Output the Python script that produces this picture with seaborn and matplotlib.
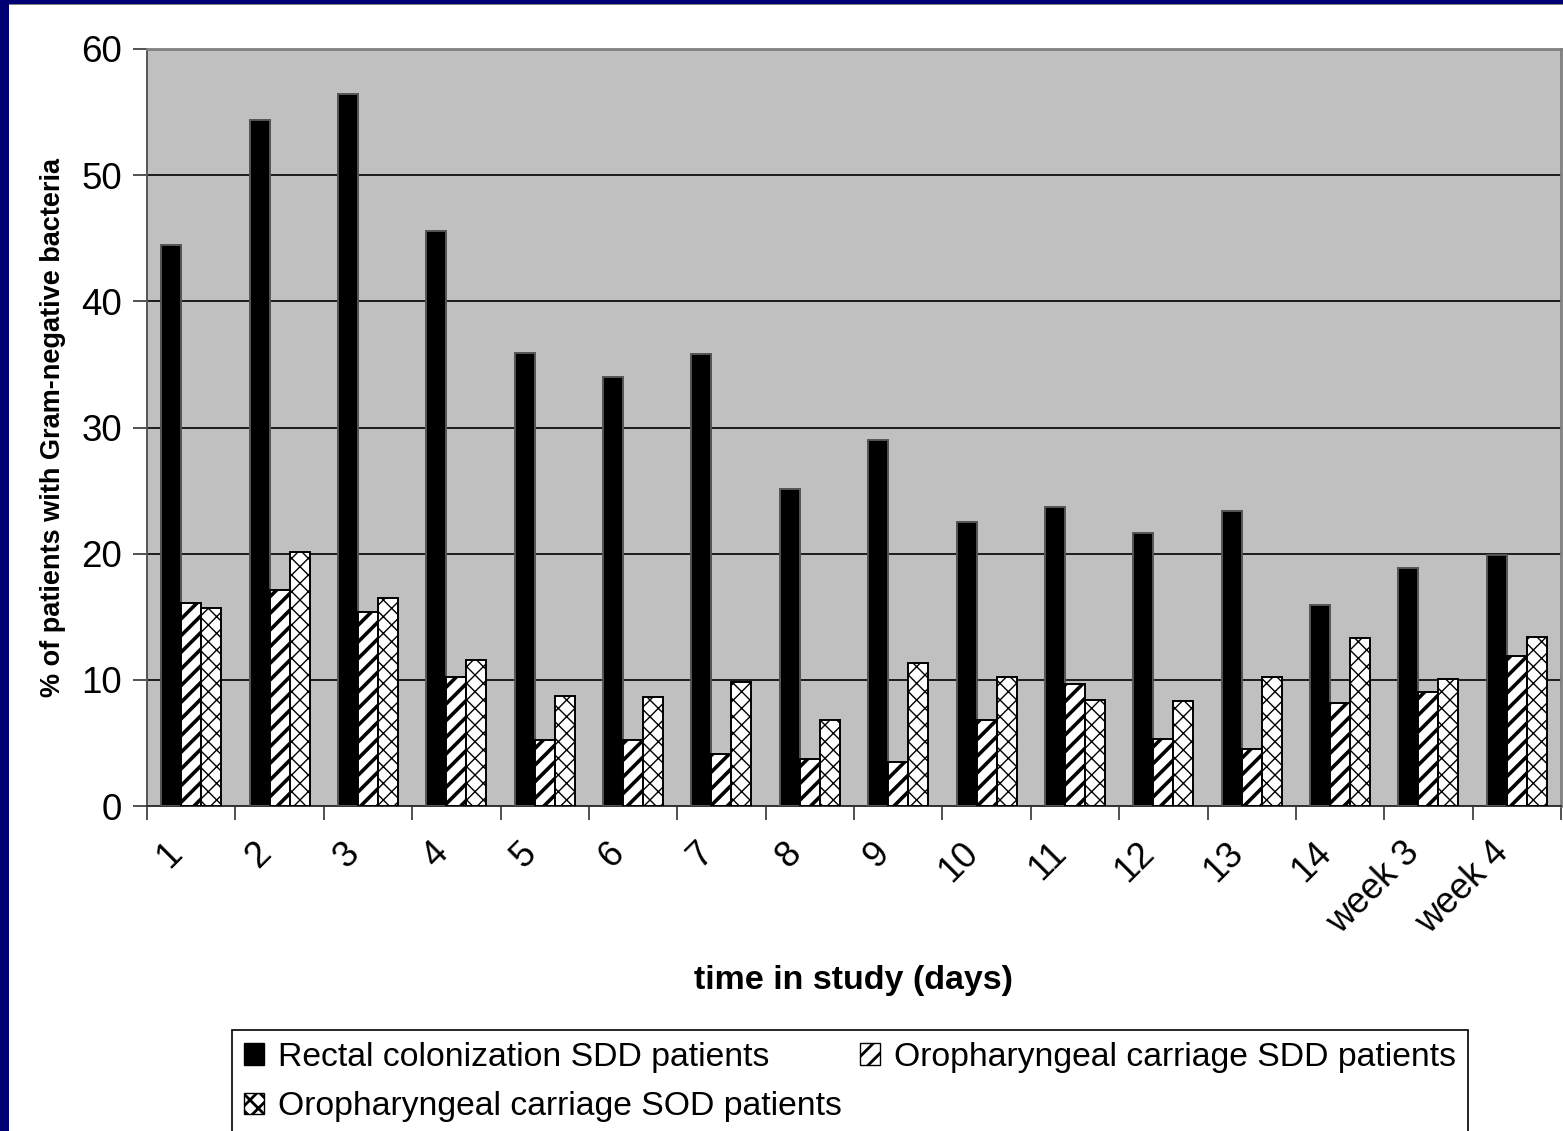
import numpy as np
import pandas as pd
import matplotlib
matplotlib.use("Agg")
import matplotlib.pyplot as plt
from matplotlib.patches import Patch, Rectangle
from matplotlib.transforms import ScaledTranslation
import seaborn as sns

categories = ["1", "2", "3", "4", "5", "6", "7", "8", "9", "10", "11", "12", "13", "14", "week 3", "week 4"]
series_names = ["Rectal colonization SDD patients",
                "Oropharyngeal carriage SDD patients",
                "Oropharyngeal carriage SOD patients"]
rectal_sdd = [44.5, 54.4, 56.4, 45.6, 35.9, 34.0, 35.8, 25.1, 29.0, 22.5, 23.7, 21.6, 23.4, 15.9, 18.9, 19.9]
oro_sdd = [16.1, 17.1, 15.4, 10.2, 5.2, 5.2, 4.1, 3.7, 3.5, 6.8, 9.7, 5.3, 4.5, 8.2, 9.0, 11.9]
oro_sod = [15.7, 20.1, 16.5, 11.6, 8.7, 8.6, 9.8, 6.8, 11.3, 10.2, 8.4, 8.3, 10.2, 13.3, 10.1, 13.4]
y_ticks = [0, 10, 20, 30, 40, 50, 60]

sns.set_theme(style="white")
plt.rcParams["font.family"] = ["Liberation Sans", "DejaVu Sans"]
plt.rcParams["hatch.linewidth"] = 2.0
for k in ["text.color", "axes.labelcolor", "xtick.color", "ytick.color"]:
    plt.rcParams[k] = "black"

df = pd.DataFrame({
    "time": categories * 3,
    "value": rectal_sdd + oro_sdd + oro_sod,
    "series": [series_names[0]] * 16 + [series_names[1]] * 16 + [series_names[2]] * 16,
})

W, H = 1563, 1131
fig = plt.figure(figsize=(W / 100, H / 100), dpi=100)
fig.patch.set_facecolor("white")
L, R, T, B = 147, 1561, 49, 806
ax = fig.add_axes([L / W, 1 - B / H, (R - L) / W, (B - T) / H])
ax.set_facecolor("#C0C0C0")

sns.barplot(data=df, x="time", y="value", hue="series", order=categories,
            hue_order=series_names, palette=["black", "white", "white"],
            edgecolor="black", linewidth=1.4, width=0.68, gap=0,
            saturation=1, ax=ax, legend=False, zorder=3)

hatches = [None, "//", "xx"]
hlw = [None, 2.6, 1.0]
for cont, h, lw in zip(ax.containers, hatches, hlw):
    for p in cont:
        if h:
            p.set_hatch(h)
            try:
                p.set_hatch_linewidth(lw)
            except Exception:
                pass
        else:
            p.set_edgecolor("#555555")

ax.set_ylim(0, 60)
ax.set_xlim(-0.5, len(categories) - 0.5)
ax.set_yticks(y_ticks)
ax.yaxis.grid(True, color="black", linewidth=1.2, zorder=0)
ax.set_axisbelow(True)
ax.tick_params(axis="y", which="major", length=10, width=1.2, color="#333333",
               labelsize=26.5, pad=8, left=True)

ax.set_xticks(np.arange(len(categories)))
ax.set_xticklabels(categories, rotation=45, ha="right", va="center",
                   rotation_mode="anchor", fontsize=26)
ax.tick_params(axis="x", which="major", length=0, pad=30)
shift = ScaledTranslation(-0.14, 0.0, fig.dpi_scale_trans)
for lab in ax.get_xticklabels():
    lab.set_transform(lab.get_transform() + shift)
ax.set_xticks(np.arange(len(categories) + 1) - 0.5, minor=True)
ax.tick_params(axis="x", which="minor", length=10, width=1.2, color="#333333", bottom=True)

for s in ["top", "right"]:
    ax.spines[s].set_color("#808080")
    ax.spines[s].set_linewidth(2)
ax.spines["left"].set_color("#555555")
ax.spines["left"].set_linewidth(1.4)
ax.spines["bottom"].set_color("#333333")
ax.spines["bottom"].set_linewidth(1.4)

ax.set_xlabel("time in study (days)", fontsize=24.5, fontweight="bold", va="center")
ax.xaxis.set_label_coords(0.5, -(981 - B) / (B - T))
ax.set_ylabel("% of patients with Gram-negative bacteria", fontsize=19.5, fontweight="bold")
ax.yaxis.set_label_coords((66 - L) / (R - L), 0.5)

handles = [Patch(facecolor="black", edgecolor="black", label=series_names[0]),
           Patch(facecolor="white", edgecolor="black", hatch="//", label=series_names[1]),
           Patch(facecolor="white", edgecolor="black", hatch="xx", label=series_names[2])]
order = [0, 2, 1]
leg = fig.legend([handles[i] for i in order], [series_names[i] for i in order],
                 loc="upper left", bbox_to_anchor=(232 / W, 1 - 1030 / H), ncol=2,
                 fontsize=24.3, frameon=True, fancybox=False, framealpha=1,
                 edgecolor="black", handlelength=0.6, handleheight=0.6,
                 handletextpad=0.4, columnspacing=0.55, borderpad=0.35, labelspacing=0.55,
                 borderaxespad=0)
leg.get_frame().set_linewidth(1.2)

# navy slide border
fig.patches.append(Rectangle((0, 0), 9 / W, 1, transform=fig.transFigure,
                             facecolor="#000075", edgecolor="none", zorder=10))
fig.patches.append(Rectangle((0, 1 - 4 / H), 1, 4 / H, transform=fig.transFigure,
                             facecolor="#000075", edgecolor="none", zorder=10))
fig.patches.append(Rectangle((9 / W, 1 - 5 / H), 1, 1 / H, transform=fig.transFigure,
                             facecolor="#808080", edgecolor="none", zorder=10))

fig.savefig("out.png", dpi=100)
